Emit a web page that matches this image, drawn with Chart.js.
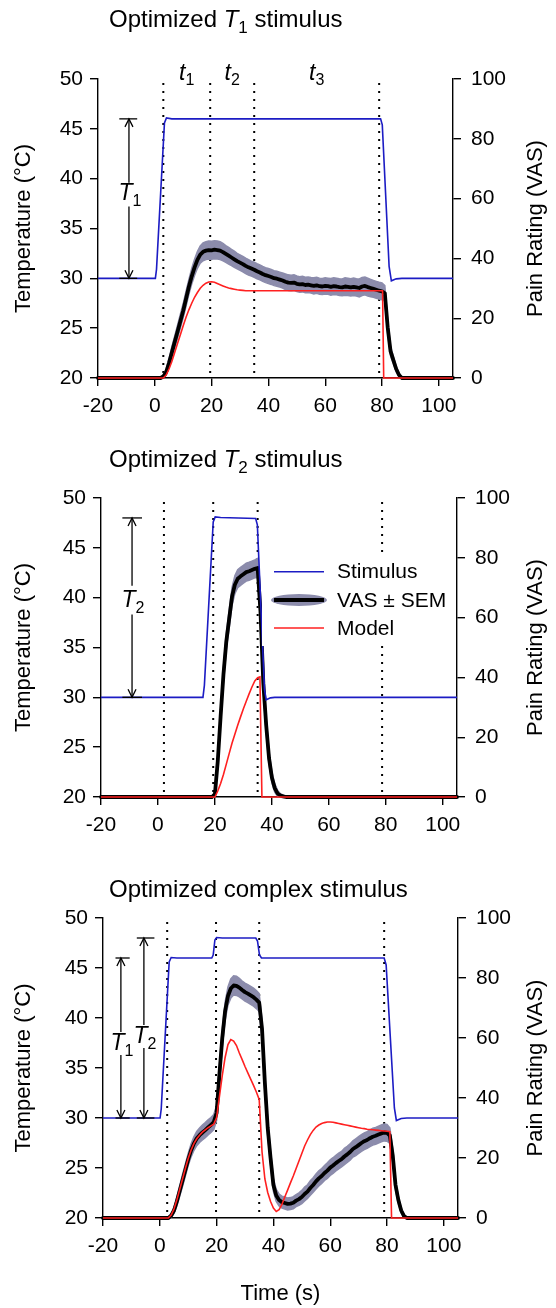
<!DOCTYPE html>
<html><head><meta charset="utf-8">
<script src="https://cdn.jsdelivr.net/npm/chart.js@4.4.1/dist/chart.umd.min.js"></script>
<style>
html,body{margin:0;padding:0;background:#fff;}
body{width:556px;height:1308px;position:relative;overflow:hidden;}
canvas{position:absolute;left:0;}
</style></head><body>
<canvas id="c1" width="556" height="440" style="top:0px"></canvas>
<canvas id="c2" width="556" height="430" style="top:430px"></canvas>
<canvas id="c3" width="556" height="448" style="top:860px"></canvas>
<script>
// ---------------- DATA ----------------
const xTicks = [-20, 0, 20, 40, 60, 80, 100];
const tempTicks = [20, 25, 30, 35, 40, 45, 50];
const vasTicks = [0, 20, 40, 60, 80, 100];

// Panel 1: optimized T1 stimulus
const p1StimT = [-20, 0.2, 0.6, 3.4, 4.1, 6, 79.5, 80.1, 82.5, 83.3, 85, 87, 105];
const p1StimV = [30, 30, 30.9, 45.6, 46.1, 46, 46, 45.4, 31.2, 29.75, 29.95, 30, 30];
const p1VasT = [-20,2,3,4,5,6,7,8,9,10,11,12,13,14,15,16,17,18,19,20,21,22,23,24,25,26,27,28,29,30,31,32,33,34,35,36,37,38,39,40,41,42,43,44,45,46,47,48,49,50,51,52,53,54,55,56,57,58,59,60,61,62,63,64,65,66,67,68,69,70,71,72,73,74,75,76,77,78,79,80,81,82,83,84,85,86,87,105];
const p1VasMean = [0,0,
 0.5,2,5,8.5,12,15.5,19,22.5,26.5,30.5,
 34,37,39.5,41.3,42.2,42.6,42.8,42.7,42.9,42.8,
 42.6,42.1,41.5,40.9,40.3,39.7,39.1,38.6,38.1,37.5,
 37,36.6,36.2,35.7,35.3,34.8,34.4,34.1,33.8,33.4,
 33.2,32.9,32.6,32.2,31.9,31.8,31.9,31.5,31.3,31.4,
 31.1,31.2,31,30.8,31,30.7,30.6,30.8,30.7,30.5,
 30.7,30.6,30.4,30.3,30.6,30.5,30.3,30.5,30.3,30.1,
 30.6,30.8,30.4,30.1,29.8,29.5,29.2,29,28.3,17,
 9,6,3,1,0,
 0];
const p1VasSem = [0.3,0.3,
 0.5,1,1.5,2,2,2.2,2.3,2.4,2.5,2.5,
 2.6,2.7,2.8,2.9,3,3,3,3,3,3,
 3,2.9,2.8,2.8,2.7,2.7,2.6,2.6,2.6,2.6,
 2.6,2.5,2.5,2.5,2.5,2.5,2.5,2.5,2.5,2.5,
 2.5,2.5,2.5,2.6,2.6,2.6,2.6,2.6,2.6,2.6,
 2.6,2.6,2.6,2.7,2.7,2.7,2.7,2.7,2.7,2.8,
 2.8,2.8,2.8,2.8,2.9,2.9,2.9,2.9,2.9,3,
 3,3,3,2.9,2.8,2.8,2.8,2.8,2.6,2.2,
 1.6,1.2,0.9,0.6,0.3,
 0.3];
const p1ModelT = [-20,3,4,5,6,7,8,9,10,11,12,13,14,15,16,17,18,19,20,21,22,23,24,25,26,27,28,29,30,31,32,80.2,80.6,105];
const p1ModelV = [0,
 0,1,3,5.5,8.5,11.5,14.5,17.5,20.3,22.8,
 25,27,28.6,30,31,31.7,32.1,32.2,32,31.6,
 31.2,30.8,30.4,30.1,29.9,29.7,29.5,29.4,29.3,29.2,
 29.2,0,0];
const p1Marks = [3, 19.5, 35, 79];

// Panel 2: optimized T2 stimulus
const p2StimT = [-20, 15.8, 16.3, 19.4, 20.1, 22, 34.3, 34.9, 37.4, 38, 39.5, 41, 105];
const p2StimV = [30, 30, 31.2, 47.6, 48.1, 48.05, 47.95, 47.3, 30.8, 29.75, 29.95, 30, 30];
const p2VasT = [-20,19,20,21,22,23,24,25,26,27,28,29,30,31,32,33,34,35,36,37,38,39,40,41,42,43,44,45,105];
const p2VasMean = [0,0,
 1,12,27,41,52,59.5,67,71,73,73.8,
 74.5,75.2,75.5,75.9,76.3,76.6,62,38,24,13,
 6.5,3,1.2,0.5,0.2,0,
 0];
const p2VasSem = [0.3,0.3,
 0.5,1.5,2,2.5,2.8,3,3,3,3,3,
 3,3,3,3,3,3.2,3,2.8,2.5,2.2,
 1.8,1.4,1,0.6,0.4,0.3,
 0.3];
const p2ModelT = [-20,20,21,22,23,24,25,26,27,28,29,30,31,32,33,34,35,35.8,36.5,105];
const p2ModelV = [0,
 0,2,4.5,7.5,11,14.5,18,21,24,26.8,
 29.5,32,34.5,36.8,38.8,39.9,
 40.2,0,0];
const p2Marks = [2.1, 19.4, 35, 78.7];

// Panel 3: optimized complex stimulus
const p3StimT = [-20, 0.1, 0.5, 3.3, 4, 6, 18.3, 18.8, 19.4, 20, 22, 33.8, 34.4, 35.1, 35.8, 79, 79.7, 82.6, 83.3, 85, 87, 105];
const p3StimV = [30, 30, 30.9, 45.6, 46.05, 46, 46, 46.3, 47.8, 48.05, 48, 48, 47.7, 46.3, 46, 46, 45.3, 31, 29.75, 29.95, 30, 30];
const p3VasT = [-20,3,4,5,6,7,8,9,10,11,12,13,14,15,16,17,18,19,20,21,22,23,24,25,26,27,28,29,30,31,32,33,34,35,36,37,38,39,40,41,42,43,44,45,46,47,48,49,50,51,52,53,54,55,56,57,58,59,60,61,62,63,64,65,66,67,68,69,70,71,72,73,74,75,76,77,78,79,80,81,82,83,84,85,86,87,105];
const p3VasMean = [0,0,
 0.8,2.5,5.5,9,12.5,16,19.5,22.5,24.8,26.5,
 27.6,28.5,29.3,30.2,31,32,35,48,60,69,
 74,76.5,77.5,77.4,76.8,76,75.3,74.8,74.2,73.6,
 72.8,71.8,63,45,30,20,11,7.5,6,5.3,
 5,4.7,4.8,5.1,5.8,6.3,7,8,8.8,10,
 11,12.2,13.2,14,15,15.8,16.8,17.5,18.3,19,
 19.6,20.5,21.2,22,23,23.6,24.3,25,25.6,26,
 26.6,27.1,27.4,27.8,28.2,28.5,28.4,27.5,21,11,
 6,2.5,0.6,0,
 0];
const p3VasSem = [0.3,0.3,
 0.6,1,1.5,1.8,2,2,2,2.2,2.3,2.4,
 2.4,2.5,2.5,2.5,2.5,2.5,2.5,2.8,3,3,
 3,3.2,3.2,3.2,3.1,3,3,3,3,3,
 3,3,3,2.8,2.5,2.3,2.1,2,2,2,
 2,2,2,2,2,2.1,2.2,2.3,2.3,2.4,
 2.4,2.5,2.5,2.5,2.5,2.6,2.6,2.6,2.6,2.6,
 2.6,2.7,2.7,2.7,2.7,2.8,2.8,2.8,2.8,2.8,
 2.8,2.8,2.8,2.8,2.8,2.8,2.8,2.6,2.2,1.6,
 1.2,0.8,0.5,0.3,
 0.3];
const p3ModelT = [-20,3,4,5,6,7,8,9,10,11,12,13,14,15,16,17,18,19,20,21,22,23,24,25,26,27,28,29,30,31,32,33,34,35,36,37,38,39,40,41,42,43,44,45,46,47,48,49,50,51,52,53,54,55,56,57,58,59,60,61,62,63,64,65,66,67,68,69,70,71,72,73,74,75,76,77,78,79,80,81,81.6,105];
const p3ModelV = [0,0,
 1,3,6,9.5,13,16.5,19.8,22.6,24.8,26.4,
 27.6,28.6,29.4,30.1,30.7,31.3,33.5,40.5,47.5,53.5,
 57.8,59.5,59,57.5,55,52.8,50.5,48.4,46.3,44.2,
 42,39.5,22,13,8.5,5.5,3.3,2.2,2.8,4.5,
 7,9.3,11.7,14,16.5,19,21.5,24,26,27.8,
 29.2,30.3,31,31.5,31.8,32,32,31.9,31.7,31.5,
 31.3,31.1,30.9,30.7,30.5,30.3,30.1,29.9,29.8,29.6,
 29.5,29.4,29.3,29.2,29.1,29,28.9,28.8,
 0,0];
const p3Marks = [2.6, 19.8, 35, 79];

// ---------------- STYLE ----------------
const FONT = "'Liberation Sans', Arial, Helvetica, sans-serif";
const BLUE = '#1c1cc4', RED = '#ff2020', BAND = 'rgb(140,140,172)';
const TICK_SIZE = 21, AXIS_TITLE_SIZE = 22;
Chart.defaults.font.family = FONT;
Chart.defaults.font.size = TICK_SIZE;
Chart.defaults.color = '#000';

function richText(c, parts, x, y, align) {
  let w = 0;
  parts.forEach(p => { c.font = p.f; p.w = c.measureText(p.t).width; w += p.w; });
  let cx = align === 'center' ? x - w / 2 : x;
  c.textAlign = 'left'; c.textBaseline = 'alphabetic'; c.fillStyle = '#000';
  parts.forEach(p => { c.font = p.f; c.fillText(p.t, cx, y + (p.dy || 0)); cx += p.w; });
}
function seg(c, x1, y1, x2, y2) { c.beginPath(); c.moveTo(x1, y1); c.lineTo(x2, y2); c.stroke(); }

function makeChart(id, P) {
  const pts = (xs, ys) => xs.map((x, i) => ({ x, y: ys[i] }));
  const upper = P.vasT.map((x, i) => ({ x, y: P.vasMean[i] + P.vasSem[i] }));
  const lower = P.vasT.map((x, i) => ({ x, y: P.vasMean[i] - P.vasSem[i] }));
  const base = { showLine: true, pointRadius: 0, pointHoverRadius: 0, tension: 0, clip: false, fill: false };
  const datasets = [
    { ...base, label: 'Stimulus', data: pts(P.stimT, P.stimV), yAxisID: 'yT', borderColor: BLUE, borderWidth: 1.6 },
    { ...base, label: 'Model', data: pts(P.modelT, P.modelV), yAxisID: 'yV', borderColor: RED, borderWidth: 1.6 },
    { ...base, label: 'VAS', data: pts(P.vasT, P.vasMean), yAxisID: 'yV', borderColor: '#000', borderWidth: 3.8, borderJoinStyle: 'round', borderCapStyle: 'round' },
    { ...base, label: 'SEM+', data: upper, yAxisID: 'yV', borderColor: BAND, borderWidth: 1.5, fill: '+1', backgroundColor: BAND },
    { ...base, label: 'SEM-', data: lower, yAxisID: 'yV', borderColor: BAND, borderWidth: 1.5 },
  ];
  P.marks.forEach(m => datasets.push({ ...base, label: 'mark', data: [{ x: m, y: 49.6 }, { x: m, y: 20 }], yAxisID: 'yT', borderColor: '#000', borderWidth: 2, borderDash: [2, 6] }));

  const deco = {
    id: 'deco',
    afterDraw(chart) {
      const c = chart.ctx, xs = chart.scales.x, yT = chart.scales.yT, ca = chart.chartArea;
      c.save();
      // title
      richText(c, P.title, 109, P.titleY, 'left');
      // time-window labels
      if (P.tLabels) {
        for (let i = 0; i < 3; i++) {
          const xm = xs.getPixelForValue((P.marks[i] + P.marks[i + 1]) / 2);
          richText(c, [{ t: 't', f: 'italic 23px ' + FONT }, { t: String(i + 1), f: '16px ' + FONT, dy: 5 }], xm, ca.top + 1, 'center');
        }
      }
      // T arrows
      c.strokeStyle = '#000'; c.lineWidth = 1.3;
      (P.arrows || []).forEach(a => {
        const x = xs.getPixelForValue(a.x);
        const yTop = yT.getPixelForValue(a.top), yBot = yT.getPixelForValue(a.bottom);
        const cL = xs.getPixelForValue(a.capL), cR = xs.getPixelForValue(a.capR);
        const gT = yT.getPixelForValue(a.gapTop), gB = yT.getPixelForValue(a.gapBottom);
        seg(c, cL, yTop, cR, yTop); seg(c, cL, yBot, cR, yBot);
        seg(c, x, yTop, x, gT); seg(c, x, gB, x, yBot);
        c.beginPath(); c.moveTo(x - 4, yTop + 8); c.lineTo(x, yTop); c.lineTo(x + 4, yTop + 8); c.stroke();
        c.beginPath(); c.moveTo(x - 4, yBot - 8); c.lineTo(x, yBot); c.lineTo(x + 4, yBot - 8); c.stroke();
        richText(c, [{ t: 'T', f: 'italic 23px ' + FONT }, { t: a.sub, f: '16px ' + FONT, dy: 6 }], x + 1, yT.getPixelForValue(a.labelY), 'center');
      });
      // legend
      if (P.legend) {
        const L = P.legend;
        c.fillStyle = '#fff'; c.fillRect(L.x0, L.y0, L.x1 - L.x0, L.y1 - L.y0);
        c.lineCap = 'butt';
        c.strokeStyle = BLUE; c.lineWidth = 1.6; seg(c, L.sx0, L.rows[0], L.sx1, L.rows[0]);
        c.fillStyle = BAND; c.beginPath(); c.ellipse((L.sx0 + L.sx1) / 2, L.rows[1], (L.sx1 - L.sx0) / 2 + 3, 6, 0, 0, Math.PI * 2); c.fill();
        c.strokeStyle = '#000'; c.lineWidth = 4; seg(c, L.sx0, L.rows[1], L.sx1, L.rows[1]);
        c.strokeStyle = RED; c.lineWidth = 1.6; seg(c, L.sx0, L.rows[2], L.sx1, L.rows[2]);
        c.fillStyle = '#000'; c.font = '21px ' + FONT; c.textAlign = 'left'; c.textBaseline = 'middle';
        ['Stimulus', 'VAS \u00B1 SEM', 'Model'].forEach((s, i) => c.fillText(s, L.tx, L.rows[i] + 1));
      }
      // right axis title (reads upward)
      c.translate(542, (ca.top + ca.bottom) / 2);
      c.rotate(-Math.PI / 2);
      c.fillStyle = '#000'; c.font = AXIS_TITLE_SIZE + 'px ' + FONT; c.textAlign = 'center'; c.textBaseline = 'alphabetic';
      c.fillText('Pain Rating (VAS)', 0, 0);
      c.restore();
    }
  };

  const axisCommon = {
    grid: { display: true, drawOnChartArea: false, drawTicks: true, tickLength: 8, color: '#000', lineWidth: 1.4 },
    border: { display: true, color: '#000', width: 1.4 },
  };
  return new Chart(document.getElementById(id), {
    type: 'scatter',
    data: { datasets },
    plugins: [deco],
    options: {
      responsive: false, animation: false, devicePixelRatio: 1, events: [],
      layout: { padding: { top: P.padTop, bottom: 0, left: 0, right: 0 } },
      plugins: { legend: { display: false }, tooltip: { enabled: false } },
      scales: {
        x: {
          ...axisCommon, type: 'linear', position: 'bottom', min: -20, max: 105,
          afterBuildTicks: s => { s.ticks = xTicks.map(v => ({ value: v })); },
          afterFit: s => { s.height = P.xAxisH; },
          ticks: { padding: 8, maxRotation: 0, autoSkip: false, font: { size: TICK_SIZE } },
          title: { display: !!P.xTitle, text: 'Time (s)', padding: { top: 0, bottom: 1 }, font: { size: AXIS_TITLE_SIZE } }
        },
        yT: {
          ...axisCommon, type: 'linear', position: 'left', min: 20, max: 50,
          afterBuildTicks: s => { s.ticks = tempTicks.map(v => ({ value: v })); },
          afterFit: s => { s.width = P.left; },
          ticks: { padding: 7, font: { size: TICK_SIZE } },
          title: { display: true, text: 'Temperature (\u00B0C)', padding: { top: 11, bottom: 0 }, font: { size: AXIS_TITLE_SIZE } }
        },
        yV: {
          ...axisCommon, type: 'linear', position: 'right', min: 0, max: 100,
          afterBuildTicks: s => { s.ticks = vasTicks.map(v => ({ value: v })); },
          afterFit: s => { s.width = 556 - P.right; },
          ticks: { padding: 10, font: { size: TICK_SIZE } }
        }
      }
    }
  });
}

const titleFont = '24px ' + FONT, titleIt = 'italic 24px ' + FONT, subFont = '17px ' + FONT;

makeChart('c1', {
  stimT: p1StimT, stimV: p1StimV, vasT: p1VasT, vasMean: p1VasMean, vasSem: p1VasSem,
  modelT: p1ModelT, modelV: p1ModelV, marks: p1Marks,
  left: 98, right: 453, padTop: 79, xAxisH: 62, titleY: 27, tLabels: true,
  title: [{ t: 'Optimized ', f: titleFont }, { t: 'T', f: titleIt }, { t: '1', f: subFont, dy: 6 }, { t: ' stimulus', f: titleFont }],
  arrows: [{ x: -9.1, top: 46, bottom: 30, capL: -12.5, capR: -6.2, gapTop: 39.6, gapBottom: 37.2, labelY: 37.9, sub: '1' }]
});
makeChart('c2', {
  stimT: p2StimT, stimV: p2StimV, vasT: p2VasT, vasMean: p2VasMean, vasSem: p2VasSem,
  modelT: p2ModelT, modelV: p2ModelV, marks: p2Marks,
  left: 101, right: 457, padTop: 68, xAxisH: 63, titleY: 37,
  title: [{ t: 'Optimized ', f: titleFont }, { t: 'T', f: titleIt }, { t: '2', f: subFont, dy: 6 }, { t: ' stimulus', f: titleFont }],
  arrows: [{ x: -9.1, top: 48, bottom: 30, capL: -12.5, capR: -5.6, gapTop: 41.2, gapBottom: 38.3, labelY: 39.1, sub: '2' }],
  legend: { x0: 262, x1: 454, y0: 123, y1: 216, sx0: 274, sx1: 324, tx: 337, rows: [141.7, 170, 198] }
});
makeChart('c3', {
  stimT: p3StimT, stimV: p3StimV, vasT: p3VasT, vasMean: p3VasMean, vasSem: p3VasSem,
  modelT: p3ModelT, modelV: p3ModelV, marks: p3Marks,
  left: 103, right: 458, padTop: 58, xAxisH: 90, titleY: 37, xTitle: true,
  title: [{ t: 'Optimized complex stimulus', f: titleFont }],
  arrows: [
    { x: -13.7, top: 46, bottom: 30, capL: -15.6, capR: -10.6, gapTop: 38.6, gapBottom: 36.3, labelY: 36.8, sub: '1' },
    { x: -5.6, top: 48, bottom: 30, capL: -8.1, capR: -1.9, gapTop: 39.3, gapBottom: 37.0, labelY: 37.5, sub: '2' }
  ]
});
</script>
</body></html>
